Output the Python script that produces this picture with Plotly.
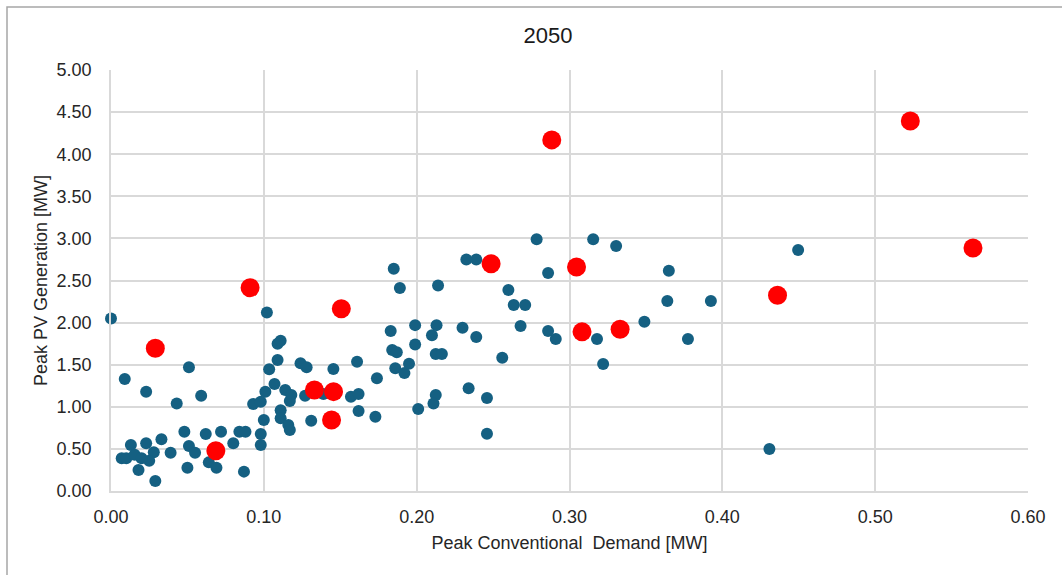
import plotly.graph_objects as go

# Blue series (other feeders)
blue_x = [0.000, 0.102, 0.009, 0.051, 0.023, 0.043, 0.059, 0.109, 0.111, 0.109,
          0.1035, 0.124, 0.128, 0.101, 0.107, 0.114, 0.118, 0.117, 0.093, 0.098,
          0.111, 0.111, 0.116, 0.117, 0.100, 0.098, 0.098, 0.080, 0.084, 0.088,
          0.087, 0.072, 0.062, 0.048, 0.033, 0.051, 0.055, 0.039, 0.023, 0.028,
          0.025, 0.013, 0.007, 0.010, 0.0155, 0.020, 0.018, 0.029, 0.050, 0.064,
          0.069, 0.185, 0.189, 0.214, 0.183, 0.199, 0.213, 0.210, 0.184, 0.187,
          0.199, 0.2125, 0.2165, 0.186, 0.192, 0.195, 0.161, 0.1455, 0.174, 0.139,
          0.127, 0.157, 0.162, 0.162, 0.173, 0.131, 0.201, 0.2125, 0.211, 0.2785,
          0.3155, 0.3305, 0.2325, 0.239, 0.286, 0.260, 0.2635, 0.271, 0.268, 0.286,
          0.291, 0.318, 0.322, 0.349, 0.230, 0.239, 0.256, 0.234, 0.246, 0.246,
          0.365, 0.364, 0.3925, 0.3775, 0.4496, 0.4308]
blue_y = [2.05, 2.12, 1.33, 1.47, 1.18, 1.04, 1.13, 1.75, 1.785, 1.556,
          1.445, 1.517, 1.469, 1.18, 1.27, 1.20, 1.14, 1.07, 1.033, 1.06,
          0.96, 0.863, 0.784, 0.724, 0.843, 0.677, 0.546, 0.566, 0.704, 0.704,
          0.23, 0.704, 0.677, 0.704, 0.614, 0.534, 0.455, 0.455, 0.566, 0.459,
          0.36, 0.546, 0.388, 0.388, 0.43, 0.388, 0.25, 0.119, 0.277, 0.34,
          0.277, 2.64, 2.41, 2.44, 1.90, 1.97, 1.97, 1.85, 1.675, 1.647,
          1.74, 1.627, 1.627, 1.457, 1.40, 1.51, 1.536, 1.449, 1.338, 1.152,
          1.13, 1.12, 1.152, 0.95, 0.883, 0.835, 0.974, 1.14, 1.04, 2.99,
          2.99, 2.91, 2.75, 2.75, 2.59, 2.387, 2.21, 2.21, 1.96, 1.90,
          1.805, 1.805, 1.508, 2.01, 1.94, 1.83, 1.583, 1.22, 1.105, 0.68,
          2.616, 2.256, 2.256, 1.805, 2.862, 0.499]

# Red series (highlighted feeders)
red_x = [0.029, 0.0686, 0.091, 0.1507, 0.1331, 0.1456, 0.1443, 0.2487, 0.2884,
         0.3046, 0.3082, 0.3331, 0.4361, 0.523, 0.564]
red_y = [1.695, 0.479, 2.415, 2.165, 1.20, 1.18, 0.843, 2.70, 4.17,
         2.66, 1.89, 1.92, 2.324, 4.394, 2.886]

x_ticks = [0.0, 0.1, 0.2, 0.3, 0.4, 0.5, 0.6]
y_ticks = [0.0, 0.5, 1.0, 1.5, 2.0, 2.5, 3.0, 3.5, 4.0, 4.5, 5.0]

fig = go.Figure()
fig.add_trace(go.Scatter(x=blue_x, y=blue_y, mode="markers",
                         marker=dict(color="#156082", size=12, line=dict(width=0)),
                         showlegend=False, cliponaxis=False))
fig.add_trace(go.Scatter(x=red_x, y=red_y, mode="markers",
                         marker=dict(color="#FF0000", size=19, line=dict(width=0)),
                         showlegend=False, cliponaxis=False))

font_family = "Liberation Sans, Arial, sans-serif"
grid = "#d9d9d9"

fig.update_layout(
    width=1062, height=575,
    margin=dict(l=111, r=34, t=70, b=84),
    paper_bgcolor="white", plot_bgcolor="white",
    font=dict(family=font_family, size=18, color="#262626"),
    title=dict(text="2050", x=548/1062, xref="container", xanchor="center",
               y=1 - 35/575, yref="container", yanchor="middle",
               font=dict(size=22, color="#1a1a1a", family=font_family)),
    xaxis=dict(range=[0, 0.6], tickvals=x_ticks,
               ticktext=[f"{v:.2f}" for v in x_ticks],
               tickfont=dict(size=18, color="#262626"),
               showgrid=True, gridcolor=grid, gridwidth=1.5,
               showline=True, linecolor=grid, linewidth=1.5, mirror=False,
               zeroline=False, ticks="", ticklen=0, ticklabelstandoff=9,
               title=dict(text="Peak Conventional\u00a0 Demand [MW]", standoff=10,
                          font=dict(size=18, color="#262626"))),
    yaxis=dict(range=[0, 5], tickvals=y_ticks,
               ticktext=[f"{v:.2f}" for v in y_ticks],
               tickfont=dict(size=18, color="#262626"),
               showgrid=True, gridcolor=grid, gridwidth=1.5,
               showline=True, linecolor=grid, linewidth=1.5,
               zeroline=False, ticks="", ticklen=0, ticklabelstandoff=14,
               title=dict(text="Peak PV Generation [MW]", standoff=4,
                          font=dict(size=18, color="#262626"))),
    shapes=[dict(type="rect", xref="paper", yref="paper",
                 x0=(7 - 111) / 917, x1=(1070 - 111) / 917,
                 y0=(491 - 600) / 421, y1=(491 - 7) / 421,
                 line=dict(color="#a6a6a6", width=1.5), layer="below")],
)

fig.write_html("out.html")
